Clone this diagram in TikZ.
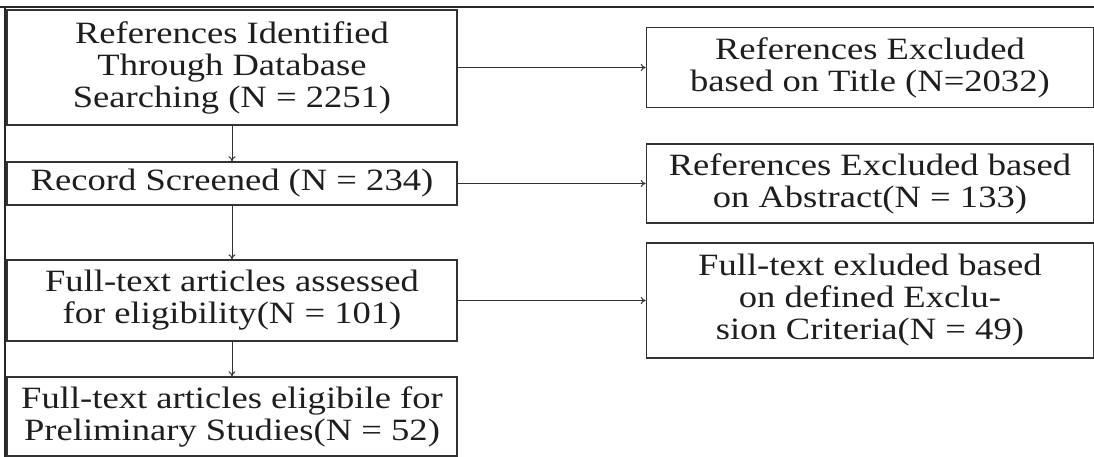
\documentclass[tikz,border=0pt]{standalone}
\usepackage{fontspec}
\setmainfont{Liberation Serif}[FakeStretch=1.18]
\usetikzlibrary{arrows.meta,positioning}
\definecolor{inkgrey}{RGB}{30,30,30}
\definecolor{edgegrey}{RGB}{50,50,50}
\tikzset{
  pbox/.style={draw=edgegrey,line width=1.4pt,align=center,inner sep=0pt,minimum width=450pt,text=inkgrey,font=\fontsize{31}{32}\selectfont},
  xbox/.style={pbox,minimum width=447pt},
  flow/.style={-{To[length=5pt,width=7pt]},line width=1pt,draw=edgegrey},
  framel/.style={line width=1.6pt,draw=black!85}
}
\begin{document}
\begin{tikzpicture}[x=1pt,y=-1pt]
  \useasboundingbox (0,0) rectangle (1094,457);
  % outer frame
  \draw[framel] (0,7) -- (1094,7);
  \draw[framel,line width=2.4pt] (5,7) -- (5,457);
  % left column
  \node[pbox,minimum height=115pt] (ident) at (232,67.5) {References Identified\\Through Database\\Searching (N = 2251)};
  \node[pbox,minimum height=43pt] (screen) at (232,183.5) {Record Screened (N = 234)};
  \node[pbox,minimum height=81pt] (assess) at (232,300.5) {Full-text articles assessed\\for eligibility(N = 101)};
  \node[pbox,minimum height=79pt] (elig) at (232,416.5) {Full-text articles eligibile for\\Preliminary Studies(N = 52)};
  % right column
  \node[xbox,minimum height=80pt,right=188pt of ident] (extitle) {References Excluded\\based on Title (N=2032)};
  \node[xbox,minimum height=79pt,right=188pt of screen] (exabs) {References Excluded based\\on Abstract(N = 133)};
  \node[xbox,minimum height=115pt,right=188pt of assess] (excrit) {Full-text exluded based\\on defined Exclu-\\sion Criteria(N = 49)};
  % arrows
  \draw[flow] (ident) -- (screen);
  \draw[flow] (screen) -- (assess);
  \draw[flow] (assess) -- (elig);
  \draw[flow] (ident) -- (extitle);
  \draw[flow] (screen) -- (exabs);
  \draw[flow] (assess) -- (excrit);
\end{tikzpicture}
\end{document}
